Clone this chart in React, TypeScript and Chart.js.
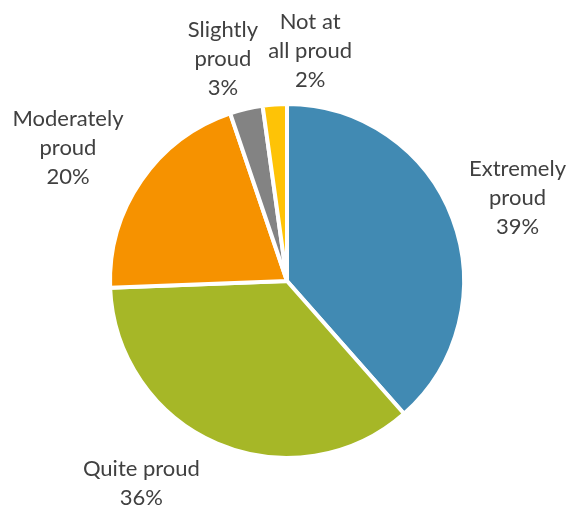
import React, { useEffect, useRef } from "react";
import { Chart, registerables } from "chart.js";

Chart.register(...registerables);

const categories = [
  "Extremely proud",
  "Quite proud",
  "Moderately proud",
  "Slightly proud",
  "Not at all proud",
];
const shares = [38.5, 35.9, 20.4, 3.0, 2.2];
const percentLabels = ["39%", "36%", "20%", "3%", "2%"];
const labelLines = [
  ["Extremely", "proud"],
  ["Quite proud"],
  ["Moderately", "proud"],
  ["Slightly", "proud"],
  ["Not at", "all proud"],
];
const colors = ["#418AB3", "#A6B727", "#F69200", "#838383", "#FEC306"];

// label placement: angular nudge (degrees) from slice middle, gap (px) outside the pie
const labelPlacement = [
  { nudge: 0.9, gap: 68 },
  { nudge: 12.5, gap: 72.4 },
  { nudge: -3.2, gap: 79.5 },
  { nudge: -2.75, gap: 54.5 },
  { nudge: 9.7, gap: 54 },
];

const FONT = "22px Lato, 'Open Sans', sans-serif";
const LINE_H = 29;

const outsideLabels = {
  id: "outsideLabels",
  afterDraw(chart: any) {
    const ctx = chart.ctx;
    const meta = chart.getDatasetMeta(0);
    ctx.save();
    ctx.font = FONT;
    ctx.fillStyle = "#404040";
    ctx.textAlign = "center";
    ctx.textBaseline = "middle";
    meta.data.forEach((arc: any, i: number) => {
      const p = arc.getProps(["x", "y", "startAngle", "endAngle", "outerRadius"], true);
      const mid = (p.startAngle + p.endAngle) / 2 + (labelPlacement[i].nudge * Math.PI) / 180;
      const d = p.outerRadius + labelPlacement[i].gap;
      const cx = p.x + d * Math.cos(mid);
      const cy = p.y + d * Math.sin(mid);
      const lines = [...labelLines[i], percentLabels[i]];
      lines.forEach((t, j) => {
        ctx.fillText(t, cx, cy + (j - (lines.length - 1) / 2) * LINE_H);
      });
    });
    ctx.restore();
  },
};

export default function App() {
  const ref = useRef<HTMLCanvasElement | null>(null);
  useEffect(() => {
    if (!ref.current) return;
    const chart = new Chart(ref.current, {
      type: "pie",
      data: {
        labels: categories,
        datasets: [
          {
            data: shares,
            backgroundColor: colors,
            borderColor: "#FFFFFF",
            borderWidth: 4,
          },
        ],
      },
      options: {
        responsive: false,
        animation: false,
        layout: { padding: { left: 108, right: 105, top: 102, bottom: 48 } },
        plugins: {
          legend: { display: false },
          tooltip: { enabled: false },
        },
      },
      plugins: [outsideLabels],
    });
    return () => chart.destroy();
  }, []);
  return (
    <div style={{ position: "fixed", left: 0, top: 0, width: 571, height: 508, background: "#fff" }}>
      <canvas ref={ref} width={571} height={508} />
    </div>
  );
}
